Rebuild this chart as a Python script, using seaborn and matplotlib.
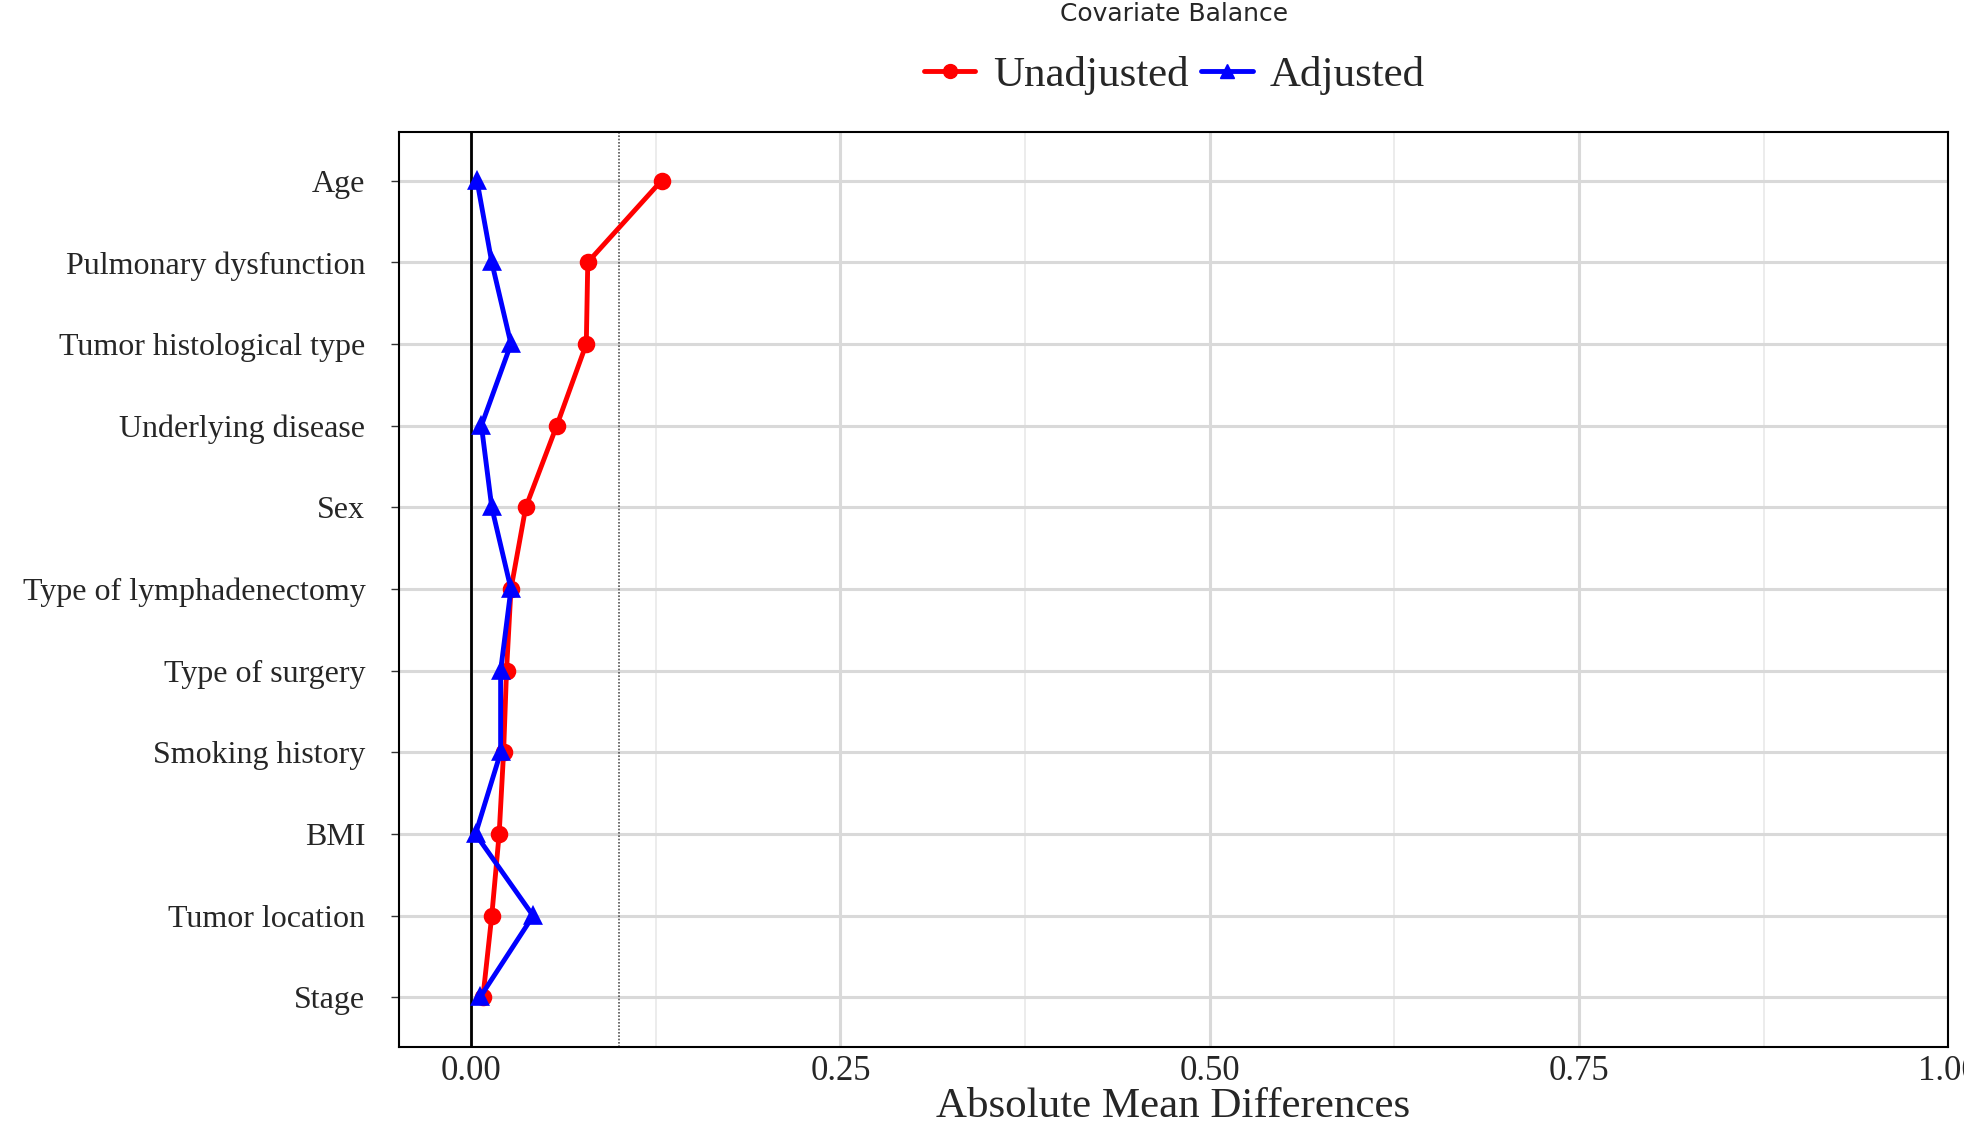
import seaborn as sns
import matplotlib.pyplot as plt
import pandas as pd
from matplotlib.lines import Line2D

# covariates, top to bottom
covariates = ["Age", "Pulmonary dysfunction", "Tumor histological type",
              "Underlying disease", "Sex", "Type of lymphadenectomy",
              "Type of surgery", "Smoking history", "BMI", "Tumor location", "Stage"]
unadjusted = [0.129, 0.079, 0.078, 0.058, 0.037, 0.027, 0.024, 0.022, 0.019, 0.014, 0.008]
adjusted = [0.004, 0.014, 0.027, 0.007, 0.014, 0.027, 0.020, 0.020, 0.003, 0.042, 0.006]
threshold = 0.1

df = pd.concat([
    pd.DataFrame({"cov": covariates, "amd": unadjusted, "Sample": "Unadjusted"}),
    pd.DataFrame({"cov": covariates, "amd": adjusted, "Sample": "Adjusted"}),
])

sns.set_style("white")
fig = plt.figure(figsize=(19.64, 11.38), dpi=100)
ax = fig.add_axes([0.203, 0.0804, 0.789, 0.804])

ax.axvline(0, color="black", lw=2, zorder=1.5)
ax.axvline(threshold, color="#555555", lw=1.2, ls=(0, (1, 1)), zorder=1.5)

sns.pointplot(data=df, x="amd", y="cov", hue="Sample", order=covariates,
              palette={"Unadjusted": "#ff0000", "Adjusted": "#0000ff"},
              markers=["o", "^"], markersize=10, linewidth=3.5,
              orient="h", errorbar=None, ax=ax, legend=False)

ax.set_xlim(-0.049, 1.0)
ax.set_ylim(10.6, -0.6)
ax.set_xticks([0, 0.25, 0.5, 0.75, 1.0])
ax.set_xticks([0.125, 0.375, 0.625, 0.875], minor=True)
ax.set_xticklabels(["0.00", "0.25", "0.50", "0.75", "1.00"],
                   family="Liberation Serif", fontsize=25)
ax.set_yticks(range(len(covariates)))
ax.set_yticklabels(covariates, family="Liberation Serif", fontsize=23)
ax.grid(True, which="major", axis="both", color="#d9d9d9", lw=2.2)
ax.grid(True, which="minor", axis="x", color="#ececec", lw=1.4)
ax.set_axisbelow(True)
ax.tick_params(axis="y", length=6, width=1, color="#333333", pad=18, left=True)
ax.tick_params(axis="x", which="both", length=0, pad=6)
ax.set_ylabel("")
ax.set_xlabel("Absolute Mean Differences", family="Liberation Serif",
              fontsize=31, labelpad=0)
for s in ax.spines.values():
    s.set_color("black")
    s.set_linewidth(1.5)

handles = [Line2D([], [], color="#ff0000", marker="o", lw=3.5, ms=10),
           Line2D([], [], color="#0000ff", marker="^", lw=3.5, ms=10)]
fig.legend(handles, ["Unadjusted", "Adjusted"], loc="center", ncol=2,
           bbox_to_anchor=(0.598, 0.934), frameon=False, handlelength=1.2,
           handletextpad=0.4, columnspacing=0.3,
           prop={"family": "Liberation Serif", "size": 31})
fig.text(0.598, 0.988, "Covariate Balance", ha="center", va="center", fontsize=18)

fig.savefig("out.png", dpi=100)
